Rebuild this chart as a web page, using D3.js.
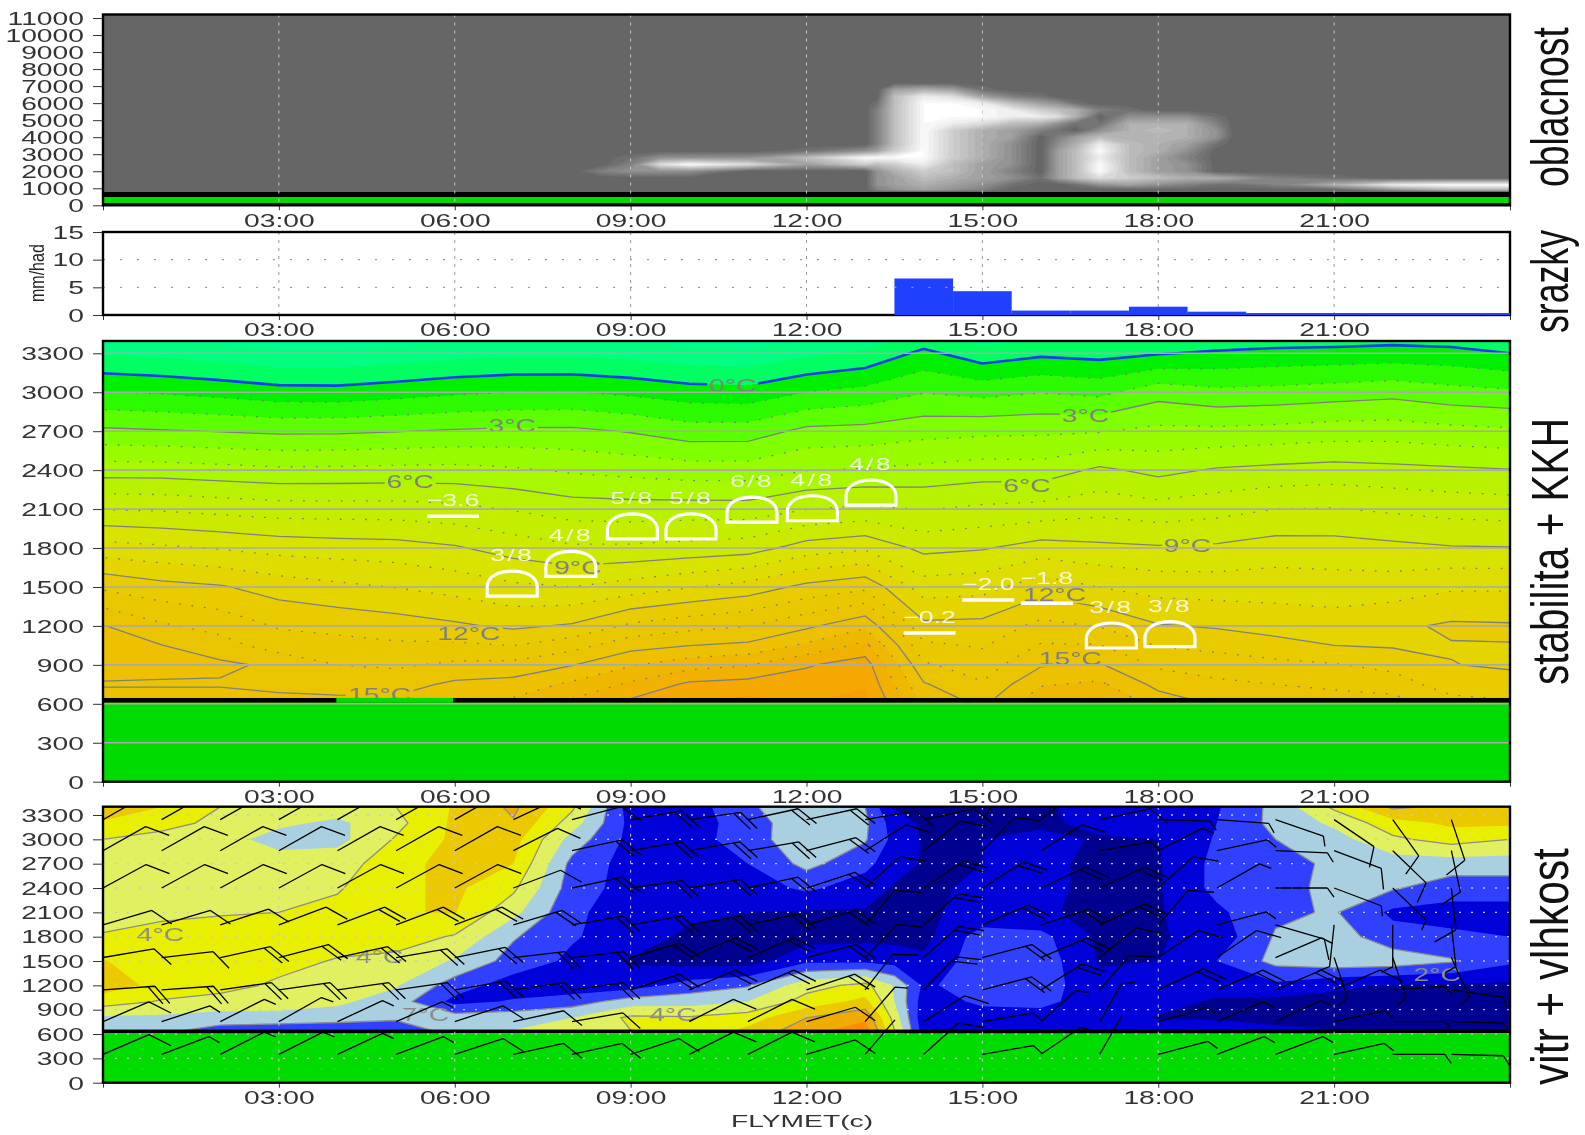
<!DOCTYPE html>
<html>
<head>
<meta charset="utf-8">
<title>FLYMET</title>
<script src="https://cdn.jsdelivr.net/npm/d3@7"></script>
<style>
body { margin: 0; background: #fff; }
svg { display: block; filter: blur(0.4px); }
text { font-family: "Liberation Sans", Arial, sans-serif; }
</style>
</head>
<body>
<svg id="chart" width="1585" height="1135"></svg>
<script>
// time axis
var timeTicks = [0, 3, 6, 9, 12, 15, 18, 21, 24];
var timeLabels = ["", "03:00", "06:00", "09:00", "12:00", "15:00", "18:00", "21:00", ""];
var hourly = [0,1,2,3,4,5,6,7,8,9,10,11,12,13,14,15,16,17,18,19,20,21,22,23,24];

// oblacnost (cloud, 0-10)
var cloudTicks = [0,1000,2000,3000,4000,5000,6000,7000,8000,9000,10000,11000];
var cloudHours = [0,8,8.5,9,9.5,10,11,12,13,13.2,13.5,14,14.5,15,15.5,16,16.3,16.6,17,17.5,18,18.5,19,19.3,20,21,22,23,24];
var cloudAlts = [800,900,1200,1600,2000,2400,2800,3200,3600,4000,4400,4800,5200,5600,6000,6400,6800,7200];
var cloud800  = [0,0,0,0,0,0,0,0,0,0,0,0,0,0,0,0,0,0,0,0,0,0,0,0,0,0,0,0,0];
var cloud900  = [0,0,0,0,0,0,0,0,0,2,3,4,3,2,0,0,0,0,0,0,0,0,0,0,0,0,3,5,5];
var cloud1200 = [0,0,0,0,0,0,0,0,0,3,4,5,4,3,1,0,0,1,3,4,3,2,1,1,2,5,9,10,10];
var cloud1600 = [0,0,0,0,0,0,0,0,0,3,4,6,5,4,3,1,4,6,8,7,6,5,5,4,2,1,0,0,0];
var cloud2000 = [0,0,2,3,3,3,0,0,0,3,5,7,6,4,2,0,4,6,10,6,4,3,0,0,0,0,0,0,0];
var cloud2400 = [0,0,0,2,8,10,8,4,7,6,7,9,6,4,3,0,4,6,10,6,4,3,0,0,0,0,0,0,0];
var cloud2800 = [0,0,0,1,3,3,3,6,10,10,10,10,7,5,3,0,4,6,9,6,4,2,0,0,0,0,0,0,0];
var cloud3200 = [0,0,0,0,0,0,0,1,3,4,7,10,7,5,3,0,4,6,10,6,5,3,0,0,0,0,0,0,0];
var cloud3600 = [0,0,0,0,0,0,0,0,0,2,6,10,7,5,3,0,3,5,9,6,5,4,1,0,0,0,0,0,0];
var cloud4000 = [0,0,0,0,0,0,0,0,0,2,6,10,7,5,4,0,2,4,6,5,5,5,3,0,0,0,0,0,0];
var cloud4400 = [0,0,0,0,0,0,0,0,0,2,6,10,7,5,4,2,1,0,3,5,6,5,3,0,0,0,0,0,0];
var cloud4800 = [0,0,0,0,0,0,0,0,0,2,6,10,9,8,6,5,3,1,1,5,5,5,2,0,0,0,0,0,0];
var cloud5200 = [0,0,0,0,0,0,0,0,0,2,6,10,10,10,9,9,8,5,0,3,3,3,1,0,0,0,0,0,0];
var cloud5600 = [0,0,0,0,0,0,0,0,0,2,6,10,10,10,9,7,6,5,2,1,0,0,0,0,0,0,0,0,0];
var cloud6000 = [0,0,0,0,0,0,0,0,0,1,6,10,10,9,6,4,3,1,0,0,0,0,0,0,0,0,0,0,0];
var cloud6400 = [0,0,0,0,0,0,0,0,0,0,6,9,8,4,2,1,0,0,0,0,0,0,0,0,0,0,0,0,0];
var cloud6800 = [0,0,0,0,0,0,0,0,0,0,4,5,4,1,0,0,0,0,0,0,0,0,0,0,0,0,0,0,0];
var cloud7200 = [0,0,0,0,0,0,0,0,0,0,0,0,0,0,0,0,0,0,0,0,0,0,0,0,0,0,0,0,0];
var cloudRows = [cloud800,cloud900,cloud1200,cloud1600,cloud2000,cloud2400,cloud2800,cloud3200,cloud3600,cloud4000,cloud4400,cloud4800,cloud5200,cloud5600,cloud6000,cloud6400,cloud6800,cloud7200];

// srazky (mm/had)
var rainTicks = [0, 5, 10, 15];
var rainHours = [14,15,16,17,18,19,20,21,22,23,24];
var rainValues = [6.6,4.3,0.8,0.8,1.5,0.6,0.35,0.35,0.35,0.35,0.35];

// stabilita + KKH: temperature by height
var altTicks = [0,300,600,900,1200,1500,1800,2100,2400,2700,3000,3300];
var tempAlts = [600,750,900,1050,1200,1500,1800,2100,2400,2700,3000,3300,3600];
var temp600  = [15.6,15.6,15.6,15.4,15.3,15.3,16,16.3,17.3,18.3,19.1,19.4,19,19.4,15.8,14.8,16.8,17.3,15.6,14.9,14.7,14.5,14.4,13.5,13.2];
var temp750  = [14.9,14.9,14.9,14.7,14.62,14.6,15.2,15.4,16.2,17.17,18.2,18.4,18.5,18.9,15.1,14.1,15.9,16.2,14.7,14.2,14,13.8,13.6,12.4,12.3];
var temp900  = [15.5,15.3,15.2,14.8,14,13.85,14.2,14.3,14.95,15.9,16.59,16.94,17.9,18.5,14.14,13.5,14.9,15.1,13.83,13.54,13.3,13.08,12.65,12.02,11.9];
var temp1050 = [15.3,15.02,14.41,13.5,13.34,13.16,13.18,12.98,13.6,14.62,14.98,15.2,16.2,17.29,13.19,12.9,14.09,14.04,12.95,12.7,12.32,12,11.9,11.95,11.98];
var temp1200 = [15.05,14.15,13.64,12.9,12.7,12.47,12.17,11.8,12.13,13.2,13.67,13.97,14.79,15.78,12.25,12.31,13.29,12.94,12.08,11.89,11.63,11.48,11.8,12.15,12.1];
var temp1500 = [12.82,12.34,12.1,11.55,11.23,10.97,10.63,10.19,10.01,10.44,10.94,11.41,12.27,12.75,10.49,10.64,11.59,10.99,10.59,10.53,10.55,10.46,10.5,10.86,10.87];
var temp1800 = [10.42,10.18,9.93,9.64,9.51,9.42,9.12,8.57,8.16,8.18,8.35,8.54,9.47,9.84,8.73,8.92,9.44,9.22,9.12,9.17,9.46,9.43,9.25,9.08,9.04];
var temp2100 = [7.96,7.88,7.68,7.5,7.47,7.46,7.29,6.93,6.51,6.43,6.46,6.44,6.97,7.21,6.96,7.2,7.35,7.69,7.4,7.65,8,8.05,7.84,7.64,7.54];
var temp2400 = [5.53,5.51,5.36,5.2,5.23,5.29,5.32,5.15,4.86,4.68,4.47,4.46,4.97,5.09,5.26,5.48,5.44,6.2,5.71,6.11,6.28,6.4,6.28,6.17,6.05];
var temp2700 = [3.19,3.08,2.96,2.82,2.84,2.96,3.11,3.2,3.22,2.93,2.46,2.48,3.26,3.35,3.65,3.78,3.83,3.93,4.25,4.23,4.35,4.51,4.54,4.31,4.17];
var temp3000 = [1.04,0.9,0.68,0.4,0.37,0.59,0.84,1,1.03,0.79,0.46,0.38,1.01,1.33,1.96,1.7,1.96,1.73,2.61,2.25,2.34,2.5,2.68,2.36,2.17];
var temp3300 = [-1.1,-1.25,-1.5,-1.8,-1.8,-1.6,-1.35,-1.2,-1.2,-1.35,-1.65,-1.75,-1.2,-0.8,0.25,-0.6,-0.2,-0.35,-0.07,0.15,0.3,0.35,0.45,0.35,0];
var temp3600 = [-3.2,-3.4,-3.6,-3.9,-3.9,-3.7,-3.5,-3.3,-3.3,-3.5,-3.8,-3.9,-3.4,-3,-1.9,-2.8,-2.3,-2.5,-2.2,-2,-1.9,-1.8,-1.7,-1.8,-2.1];
var tempRows = [temp600,temp750,temp900,temp1050,temp1200,temp1500,temp1800,temp2100,temp2400,temp2700,temp3000,temp3300,temp3600];

var isoLabels = ["0°C","3°C","6°C","9°C","12°C","15°C","6°C","3°C","9°C","12°C","15°C"];
var isoLabelHours = [10.74,6.98,5.24,8.1,6.24,4.72,15.76,16.76,18.5,16.23,16.5];
var isoLabelAlts = [3050,2745,2308,1646,1137,667,2277,2817,1820,1437,946];

var cloudCoverLabels = ["3/8","4/8","5/8","5/8","6/8","4/8","4/8","3/8","3/8"];
var cloudCoverHours = [6.98,7.98,9.03,10.03,11.07,12.1,13.1,17.2,18.2];
var cloudCoverAlts = [1430,1582,1870,1870,2000,2010,2130,1030,1040];
var liftLabels = ["−3.6","−0.2","−2.0","−1.8"];
var liftHours = [5.97,14.1,15.1,16.1];
var liftAlts = [2045,1145,1400,1375];
var liftLabelRise = [16,16,16,25];

// vitr + vlhkost: humidity class by height
var humHours = [0,1,2,3,4,5,6,7,8,9,10,11,12,13,13.5,14,15,16,17,18,19,20,21,22,23,24];
var humAlts = [650,800,1000,1200,1500,1800,2100,2400,2700,3000,3200,3400];
var hum650  = [3.3,3.3,2.6,2.3,2.2,2.3,3.5,4.0,4.4,5.0,5.4,6.2,7.6,8.5,5.0,1.5,1.8,1.8,1.8,1.8,1.5,1.2,1.0,0.8,0.8,0.8];
var hum800  = [3.8,3.8,3.6,3.7,3.5,3.2,3.5,3.6,4.0,5.2,5.1,5.5,7.0,7.8,4.6,1.3,1.5,1.7,1.7,0.9,0.9,0.7,0.6,0.6,0.6,0.6];
var hum1000 = [5.5,4.9,4.6,4.4,4.2,3.5,1.7,2.1,2.5,3.5,3.6,4.0,5.4,6.3,4.0,1.5,2.2,2.2,1.6,1.5,0.8,0.7,0.7,0.7,0.7,0.7];
var hum1200 = [6.5,5.7,5.4,4.8,4.5,4.1,2.5,1.5,1.4,1.5,2.4,2.9,4.6,5.3,3.9,1.8,2.6,2.5,1.3,1.0,1.5,1.8,1.2,0.9,0.9,0.8];
var hum1500 = [6.05,5.5,5.5,5.4,4.9,4.7,3.9,2.6,1.8,0.9,0.6,0.5,1.8,1.8,1.6,1.2,2.6,2.6,0.9,1.0,2.0,3.3,3.7,3.6,3.1,2.2];
var hum1800 = [5.1,5.5,5.6,5.6,5.6,5.5,4.9,3.1,2.1,1.5,0.8,0.8,0.6,0.7,0.7,0.7,2.5,2.3,0.8,0.9,1.4,3.1,3.5,2.4,2.2,2.0];
var hum2100 = [4.5,4.7,4.9,5.0,5.3,5.95,6.05,4.3,2.2,1.5,1.2,1.0,0.9,0.9,0.9,0.9,1.2,1.1,0.8,0.9,1.8,2.8,3.1,1.8,1.6,1.6];
var hum2400 = [4.5,4.4,4.4,4.6,4.9,5.8,6.2,5.2,2.5,1.6,1.5,1.5,2.2,1.5,0.9,0.9,1.1,1.1,0.9,0.9,2.3,2.6,3.3,3.1,2.5,2.5];
var hum2700 = [4.5,4.5,4.5,4.5,4.6,5.5,6.5,6.0,2.7,1.6,1.4,2.0,3.3,2.3,1.4,0.9,1.0,1.1,0.9,0.9,2.3,2.6,3.2,3.5,3.5,3.5];
var hum3000 = [5.0,4.6,4.4,3.6,3.7,5.1,6.2,6.4,3.6,1.7,1.5,2.6,3.6,3.1,1.7,0.9,1.0,1.3,0.9,1.0,2.1,3.0,3.6,4.8,5.4,5.0];
var hum3200 = [5.9,5.4,4.7,4.2,3.8,4.7,6.2,6.9,4.5,1.7,1.5,2.5,3.7,3.2,1.5,0.8,0.8,0.8,1.3,1.3,2.0,3.3,4.2,5.6,6.2,6.2];
var hum3400 = [6.5,6.0,5.0,4.6,4.5,5.0,6.1,7.2,5.2,1.5,1.5,2.8,3.9,3.0,0.9,0.8,0.8,0.8,1.5,1.5,1.9,3.3,5.2,7.2,6.8,6.5];
var humRows = [hum650,hum800,hum1000,hum1200,hum1500,hum1800,hum2100,hum2400,hum2700,hum3000,hum3200,hum3400];

var humLabels = ["4°C","4°C","7°C","4°C","2°C"];
var humLabelHours = [0.98,4.72,5.5,9.72,22.76];
var humLabelAlts = [1823,1555,835,835,1329];

// wind: staff bearing (deg) and speed per hour, one list per level
var windAlts = [3243,2860,2400,1946,1543,1144,753,350];
var dir3243 = [55,55,55,55,55,55,55,60,72,78,80,75,75,78,75,30,45,75,92,95,113,130,150,165];
var spd3243 = [10,10,10,10,10,10,10,10,10,20,20,20,20,10,10,10,10,10,5,5,5,10,10,10];
var dir2860 = [55,55,55,55,55,55,55,58,75,78,78,78,72,52,45,38,52,78,58,75,93,115,140,170];
var spd2860 = [10,10,10,10,10,10,10,10,20,20,20,20,20,10,10,10,10,5,5,5,5,10,10,10];
var dir2400 = [56,56,56,56,56,56,56,65,75,80,78,75,68,42,50,52,60,60,42,55,90,115,140,175];
var spd2400 = [10,10,10,10,10,10,10,10,20,20,20,20,20,10,20,20,20,20,10,5,5,5,5,10];
var dir1946 = [70,70,68,65,65,65,65,70,78,78,78,75,70,35,42,62,68,60,35,72,110,185,180,175];
var spd1946 = [10,10,10,10,20,20,20,20,20,20,20,20,20,10,20,20,20,20,10,5,10,5,5,5];
var dir1543 = [78,82,75,72,75,78,76,82,82,70,62,62,72,38,42,72,62,45,50,50,62,165,165,160];
var spd1543 = [10,10,20,20,20,20,20,20,20,20,20,20,20,10,20,20,20,10,10,10,5,5,5,5];
var dir1144 = [85,85,80,80,80,80,78,80,80,68,62,62,68,32,38,72,52,35,60,62,62,62,85,100];
var spd1144 = [20,20,20,20,20,20,20,20,20,20,20,20,20,10,20,20,20,10,20,20,20,10,5,5];
var dir753  = [62,68,58,55,60,62,68,75,78,null,58,58,70,35,52,78,42,25,70,62,60,75,90,92];
var spd753  = [10,5,5,5,5,5,10,10,10,0,10,10,10,5,10,5,5,5,5,5,5,5,5,5];
var dir350  = [62,65,58,58,60,65,68,75,75,68,58,58,70,35,42,78,50,25,72,65,65,75,90,92];
var spd350  = [10,5,5,5,5,5,10,10,10,10,10,10,10,0,10,5,5,0,5,5,5,5,5,5];
var windDirs = [dir3243,dir2860,dir2400,dir1946,dir1543,dir1144,dir753,dir350];
var windSpeeds = [spd3243,spd2860,spd2400,spd1946,spd1543,spd1144,spd753,spd350];

// colours
var tempSteps = [-3,-2,-1,0,1,2,3,4,5,6,7,8,9,10,11,12,13,14,15,16,17,18,19];
var tempColors = ["#00ff90","#00ff80","#00ff60","#00f000","#2cfb00","#5cff00","#80ff00","#98fb00","#a8f800","#b8f200","#c4ee00","#ccea00","#d8e400","#dedc00","#e4d400","#e8cc00","#e9c800","#ebc400","#edc000","#efb800","#f2b000","#f4a800","#f6a000"];
var humColors = ["#000090","#0000d8","#3040ff","#a8d0e0","#e0f060","#e8f000","#ecc800","#f0aa00","#ff8c00"];
var green = "#00dc00";

var svg = d3.select("#chart");
var left = 103, right = 1510;
var x = d3.scaleLinear().domain([0, 24]).range([left, right]);
var stretch = 1.57;

function hline(g, y, x1, x2) {
  return g.append("line").attr("x1", x1).attr("x2", x2).attr("y1", y).attr("y2", y);
}

function addClip(id, top, bottom) {
  svg.append("clipPath").attr("id", id).append("rect")
    .attr("x", left).attr("y", top).attr("width", right - left).attr("height", bottom - top);
}

// contours in grid index space, mapped back to hour/altitude
function fieldPath(hours, alts, y) {
  var ix = d3.scaleLinear().domain(d3.range(hours.length)).range(hours);
  var iy = d3.scaleLinear().domain(d3.range(alts.length)).range(alts);
  return d3.geoPath(d3.geoTransform({
    point: function(cx, cy) {
      this.stream.point(x(ix(cx - 0.5)), y(iy(cy - 0.5)));
    }
  }));
}

function fieldContours(rows, steps) {
  return d3.contours().size([rows[0].length, rows.length]).thresholds(steps)(d3.merge(rows));
}

function drawAxes(y, ticks, bottom) {
  var ax = svg.append("g").attr("transform", "translate(" + left + ",0)")
    .call(d3.axisLeft(y).tickValues(ticks).tickSize(10).tickFormat(d3.format("d")));
  var bx = svg.append("g").attr("transform", "translate(0," + bottom + ")")
    .call(d3.axisBottom(x).tickValues(timeTicks).tickSize(5).tickFormat(function(d, i) { return timeLabels[i]; }));
  [ax, bx].forEach(function(g) {
    g.select(".domain").remove();
    g.selectAll("line").attr("stroke", "#333");
  });
  ax.selectAll("text").attr("font-size", 18).attr("fill", "#333")
    .attr("transform", "scale(" + stretch + ",1)").attr("x", -19 / stretch).attr("dy", "0.35em")
    .style("font-family", "Liberation Sans");
  bx.selectAll("text").attr("font-size", 18).attr("fill", "#333")
    .attr("transform", "scale(" + stretch + ",1)").attr("y", 15).attr("dy", "0.35em")
    .style("font-family", "Liberation Sans");
}

function frame(top, bottom) {
  svg.append("rect").attr("x", left).attr("y", top).attr("width", right - left).attr("height", bottom - top)
    .attr("fill", "none").attr("stroke", "#000").attr("stroke-width", 2.4);
}

function stretchedText(g, text, px, py, size, fill) {
  return g.append("text").text(text).attr("font-size", size).attr("fill", fill)
    .attr("text-anchor", "middle").attr("dy", "0.35em")
    .attr("transform", "translate(" + px + "," + py + ") scale(" + stretch + ",1)");
}

function sideTitle(text, start, end) {
  var t = svg.append("text").text(text).attr("font-size", 52).attr("fill", "#111");
  var fit = (start - end) / t.node().getComputedTextLength();
  t.attr("transform", "translate(1568," + start + ") rotate(-90) scale(" + fit + ",1)");
}

function verticals(g, top, bottom, color, dash) {
  g.selectAll("line.v").data(timeTicks.slice(1, -1)).enter().append("line").attr("class", "v")
    .attr("x1", x).attr("x2", x).attr("y1", top).attr("y2", bottom)
    .attr("stroke", color).attr("stroke-dasharray", dash);
}

/* ---- oblacnost ---- */
var y1 = d3.scaleLinear().domain([0, 11000]).range([205.3, 18]);
addClip("clip1", 14.5, 205.3);
var p1 = svg.append("g").attr("clip-path", "url(#clip1)");
var cloudGrey = d3.scaleLinear().domain([0, 10]).range(["#666666", "#ffffff"]);
p1.append("rect").attr("x", left).attr("y", 14.5).attr("width", right - left).attr("height", 191).attr("fill", cloudGrey(0));
var cloudPath = fieldPath(cloudHours, cloudAlts, y1);
p1.selectAll("path").data(fieldContours(cloudRows, d3.range(0.5, 10.01, 0.5))).enter().append("path")
  .attr("d", cloudPath).attr("fill", function(d) { return cloudGrey(d.value); });
p1.append("rect").attr("x", left).attr("width", right - left).attr("y", y1(781)).attr("height", y1(487) - y1(781)).attr("fill", "#000");
p1.append("rect").attr("x", left).attr("width", right - left).attr("y", y1(487)).attr("height", y1(135) - y1(487)).attr("fill", green);
p1.append("rect").attr("x", left).attr("width", right - left).attr("y", y1(135)).attr("height", y1(0) - y1(135)).attr("fill", "#000");
verticals(p1, 14.5, 205.3, "#c8c8c8", "3 5");
drawAxes(y1, cloudTicks, 205.3);
frame(14.5, 205.3);

/* ---- srazky ---- */
var y2 = d3.scaleLinear().domain([0, 15]).range([315, 232]);
var p2 = svg.append("g");
verticals(p2, 232, 315, "#999", "3 5");
[5, 10].forEach(function(v) {
  hline(p2, y2(v), left, right).attr("stroke", "#888").attr("stroke-dasharray", "2 15");
});
drawAxes(y2, rainTicks, 315);
frame(232, 315);
var rainBars = svg.append("g");
rainBars.selectAll("rect").data(rainHours).enter().append("rect")
  .attr("x", function(d) { return x(d - 0.5); })
  .attr("width", function(d) { return x(Math.min(d + 0.5, 24)) - x(d - 0.5); })
  .attr("y", function(d, i) { return y2(rainValues[i]); })
  .attr("height", function(d, i) { return y2(0) - y2(rainValues[i]); })
  .attr("fill", "#2040ff");
hline(rainBars, y2(5), x(13.5), x(14.5)).attr("stroke", "#aaa").attr("stroke-dasharray", "2 15");
svg.append("text").text("mm/had").attr("transform", "translate(44,302) rotate(-90) scale(0.8,1)")
  .attr("font-size", 20).attr("fill", "#222");

/* ---- stabilita + KKH ---- */
var y3 = d3.scaleLinear().domain([0, 3300]).range([781.7, 353.3]);
addClip("clip3", 341, 781.7);
var p3 = svg.append("g").attr("clip-path", "url(#clip3)");
p3.append("rect").attr("x", left).attr("y", 341).attr("width", right - left).attr("height", 360).attr("fill", "#00ffa0");
var tempPath = fieldPath(hourly, tempAlts, y3);
p3.append("g").selectAll("path").data(fieldContours(tempRows, tempSteps)).enter().append("path")
  .attr("d", tempPath).attr("fill", function(d, i) { return tempColors[i]; });

// gaps in the isolines behind their labels
var mask = svg.append("mask").attr("id", "isoGaps").attr("maskUnits", "userSpaceOnUse")
  .attr("x", 0).attr("y", 0).attr("width", 1585).attr("height", 1135);
mask.append("rect").attr("width", 1585).attr("height", 1135).attr("fill", "#fff");
mask.selectAll("rect.gap").data(isoLabels).enter().append("rect").attr("class", "gap")
  .attr("x", function(d, i) { return x(isoLabelHours[i]) - d.length * 8.5; })
  .attr("y", function(d, i) { return y3(isoLabelAlts[i]) - 8; })
  .attr("width", function(d) { return d.length * 17; })
  .attr("height", 16).attr("fill", "#000");
var isoLines = p3.append("g").attr("mask", "url(#isoGaps)").attr("fill", "none");
isoLines.selectAll("path.dot").data(fieldContours(tempRows, [1,2,4,5,7,8,10,11,13,14,16,17])).enter().append("path").attr("class", "dot")
  .attr("d", tempPath).attr("stroke", "#777").attr("stroke-width", 1.3).attr("stroke-dasharray", "1.6 11");
isoLines.selectAll("path.solid").data(fieldContours(tempRows, [3,6,9,12,15,18])).enter().append("path").attr("class", "solid")
  .attr("d", tempPath).attr("stroke", "#808080").attr("stroke-width", 1.3);
isoLines.selectAll("path.zero").data(fieldContours(tempRows, [0])).enter().append("path").attr("class", "zero")
  .attr("d", tempPath).attr("stroke", "#1a3cf0").attr("stroke-width", 2.6);

isoLabels.forEach(function(d, i) {
  stretchedText(p3, d, x(isoLabelHours[i]), y3(isoLabelAlts[i]), 18, "#808080");
});

// ground
p3.append("rect").attr("x", left).attr("width", right - left).attr("y", y3(645)).attr("height", y3(608) - y3(645)).attr("fill", "#000");
p3.append("rect").attr("x", x(3.98)).attr("width", x(5.97) - x(3.98)).attr("y", y3(645)).attr("height", y3(608) - y3(645)).attr("fill", green);
p3.append("rect").attr("x", left).attr("width", right - left).attr("y", y3(608)).attr("height", y3(0) - y3(608)).attr("fill", green);
p3.selectAll("line.h").data(altTicks.slice(1)).enter().append("line").attr("class", "h")
  .attr("x1", left).attr("x2", right).attr("y1", y3).attr("y2", y3)
  .attr("stroke", "#aaa").attr("stroke-width", 1.6);

// convective cloud marks
var dome = "M-25,0H25V-9C25,-20 13,-25 0,-25C-13,-25 -25,-20 -25,-9Z";
cloudCoverLabels.forEach(function(d, i) {
  var px = x(cloudCoverHours[i]), py = y3(cloudCoverAlts[i]);
  p3.append("path").attr("d", dome).attr("transform", "translate(" + px + "," + py + ")")
    .attr("fill", "none").attr("stroke", "#fff").attr("stroke-width", 3.2);
  stretchedText(p3, d, px, py - 41, 17, "#fff").attr("letter-spacing", 1.5).attr("fill-opacity", 0.85);
});
liftLabels.forEach(function(d, i) {
  var px = x(liftHours[i]), py = y3(liftAlts[i]);
  hline(p3, py, px - 26, px + 26).attr("stroke", "#fff").attr("stroke-width", 3.4);
  stretchedText(p3, d, px, py - liftLabelRise[i], 17, "#fff").attr("fill-opacity", 0.85);
});
drawAxes(y3, altTicks, 781.7);
frame(341, 781.7);

/* ---- vitr + vlhkost ---- */
var y4 = d3.scaleLinear().domain([0, 3300]).range([1082.7, 815]);
addClip("clip4", 806.7, 1082.7);
var p4 = svg.append("g").attr("clip-path", "url(#clip4)");
p4.append("rect").attr("x", left).attr("y", 806.7).attr("width", right - left).attr("height", 225).attr("fill", humColors[0]);
var humPath = fieldPath(humHours, humAlts, y4);
p4.append("g").selectAll("path").data(fieldContours(humRows, [1,2,3,4,5,6,7,8])).enter().append("path")
  .attr("d", humPath).attr("fill", function(d, i) { return humColors[i + 1]; });
p4.append("g").attr("fill", "none").selectAll("path").data(fieldContours(humRows, [3,5,7])).enter().append("path")
  .attr("d", humPath).attr("stroke", "#8c8c8c").attr("stroke-width", 1.3);
humLabels.forEach(function(d, i) {
  stretchedText(p4, d, x(humLabelHours[i]), y4(humLabelAlts[i]), 18, "#8c8c8c");
});
p4.append("rect").attr("x", left).attr("width", right - left).attr("y", y4(655)).attr("height", y4(609) - y4(655)).attr("fill", "#000");
p4.append("rect").attr("x", left).attr("width", right - left).attr("y", y4(609)).attr("height", y4(0) - y4(609)).attr("fill", green);
verticals(p4, 806.7, 1082.7, "#c8c8c8", "3 6");
altTicks.slice(1).forEach(function(v) {
  hline(p4, y4(v), left, right).attr("stroke", "#c8c8c8").attr("stroke-width", 1.3).attr("stroke-dasharray", "2 10");
});

// wind barbs
function barbPath(px, py, dir, speed) {
  var a = dir * Math.PI / 180, b = (dir + 60) * Math.PI / 180;
  var sx = 52 * Math.sin(a), sy = -42 * Math.cos(a);
  var d = "M" + px + "," + py + "l" + sx + "," + sy;
  var marks = [];
  for (var n = 0; n < Math.floor(speed / 10); n++) marks.push(1);
  if (speed % 10 >= 5) marks.push(0.5);
  marks.forEach(function(len, k) {
    var bx = px + sx * (1 - k * 0.13), by = py + sy * (1 - k * 0.13);
    d += "M" + bx + "," + by + "l" + (26 * len * Math.sin(b)) + "," + (-21 * len * Math.cos(b));
  });
  return d;
}
windAlts.forEach(function(alt, r) {
  windDirs[r].forEach(function(d, h) {
    if (d === null) return;
    p4.append("path").attr("class", "barb")
      .attr("d", barbPath(x(hourly[h]), y4(alt), d, windSpeeds[r][h]))
      .attr("fill", "none").attr("stroke", "#000").attr("stroke-width", 1.3);
  });
});
drawAxes(y4, altTicks, 1082.7);
frame(806.7, 1082.7);

svg.append("text").text("FLYMET(c)").attr("font-size", 17).attr("fill", "#333")
  .attr("text-anchor", "middle").attr("dy", "0.35em")
  .attr("transform", "translate(802,1121) scale(1.66,1)");

sideTitle("oblacnost", 187, 27);
sideTitle("srazky", 333, 230);
sideTitle("stabilita + KKH", 685, 418);
sideTitle("vitr + vlhkost", 1085, 848);
</script>
</body>
</html>
